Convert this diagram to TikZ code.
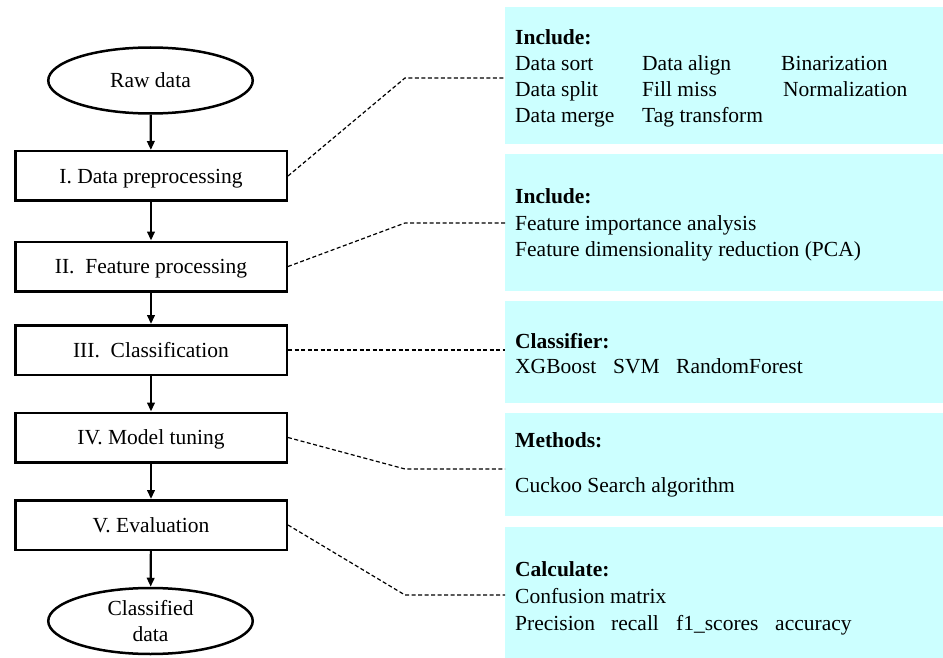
\documentclass[tikz,border=0pt]{standalone}
\usepackage{fontspec}
\setmainfont{Liberation Serif}
\usetikzlibrary{shapes.geometric,arrows.meta}
\definecolor{cyanbg}{RGB}{204,255,255}
\begin{document}
\begin{tikzpicture}[x=1pt,y=-1pt,
  txtfont/.style={font=\fontsize{21.5}{26}\selectfont},
  box/.style={draw, line width=2.5pt, minimum width=271.5pt, minimum height=49.5pt, inner sep=0pt, text height=15pt, text depth=0.5pt, txtfont},
  term/.style={draw, ellipse, line width=2.5pt, minimum width=204.5pt, minimum height=66pt, inner sep=0pt, align=center, txtfont},
  panel/.style={fill=cyanbg, draw=none, anchor=north west, minimum width=438pt, inner sep=0pt},
  ptxt/.style={anchor=base west, inner sep=0pt, txtfont},
  ptitle/.style={ptxt, font=\fontsize{21.5}{26}\selectfont\bfseries},
  conn/.style={line width=1.2pt, dash pattern=on 4pt off 2.5pt},
  flow/.style={-{Triangle[length=9pt,width=7.5pt]}, line width=2.2pt}]
\useasboundingbox (0,0) rectangle (943,658);

% panels
\node[panel, minimum height=137pt] (p1) at (505,7) {};
\node[panel, minimum height=137pt] (p2) at (505,154) {};
\node[panel, minimum height=102pt] (p3) at (505,301) {};
\node[panel, minimum height=103pt] (p4) at (505,413) {};
\node[panel, minimum height=131pt] (p5) at (505,527) {};

% flow nodes
\node[term, text height=15pt, text depth=0.5pt] (raw) at (150.5,80.5) {Raw data};
\node[box] (b1) at (151,176) {I. Data preprocessing};
\node[box] (b2) at (151,266.5) {II.\ \ Feature processing};
\node[box] (b3) at (151,350) {III.\ \ Classification};
\node[box] (b4) at (151,437.5) {IV. Model tuning};
\node[box] (b5) at (151,525) {V. Evaluation};
\node[term] (cls) at (150.5,621) {Classified\\data};

\draw[flow] (raw) -- (b1);
\draw[flow] (b1) -- (b2);
\draw[flow] (b2) -- (b3);
\draw[flow] (b3) -- (b4);
\draw[flow] (b4) -- (b5);
\draw[flow] (b5) -- (cls);

% panel texts
\node[ptitle] (t1) at (515,45) {Include:};
\node[ptxt] (t1a) at (515,71) {Data sort};
\node[ptxt] (t1b) at (642,71) {Data align};
\node[ptxt] (t1c) at (781,71) {Binarization};
\node[ptxt] (t1d) at (515,97) {Data split};
\node[ptxt] (t1e) at (642,97) {Fill miss};
\node[ptxt] (t1f) at (783,97) {Normalization};
\node[ptxt] (t1g) at (515,123) {Data merge};
\node[ptxt] (t1h) at (642,123) {Tag transform};

\node[ptitle] (t2) at (515,204) {Include:};
\node[ptxt] (t2a) at (515,230) {Feature importance analysis};
\node[ptxt] (t2b) at (515,256) {Feature dimensionality reduction (PCA)};

\node[ptitle] (t3) at (515,348) {Classifier:};
\node[ptxt] (t3a) at (515,373) {XGBoost};
\node[ptxt] (t3b) at (613,373) {SVM};
\node[ptxt] (t3c) at (676,373) {RandomForest};

\node[ptitle] (t4) at (515,447) {Methods:};
\node[ptxt] (t4a) at (515,492) {Cuckoo Search algorithm};

\node[ptitle] (t5) at (515,576) {Calculate:};
\node[ptxt] (t5a) at (515,603) {Confusion matrix};
\node[ptxt] (t5b) at (515,630) {Precision};
\node[ptxt] (t5c) at (611,630) {recall};
\node[ptxt] (t5d) at (676,630) {f1\_scores};
\node[ptxt] (t5e) at (775,630) {accuracy};

% dashed connectors
\coordinate (k1) at (405,78);
\coordinate (k2) at (405,223);
\coordinate (k4) at (405,469);
\coordinate (k5) at (405,595);
\draw[conn] (b1.east) -- (k1) -- (k1 -| p1.west);
\draw[conn] (b2.east) -- (k2) -- (k2 -| p2.west);
\draw[conn] (b3.east) -- (b3.east -| p3.west);
\draw[conn] (b4.east) -- (k4) -- (k4 -| p4.west);
\draw[conn] (b5.east) -- (k5) -- (k5 -| p5.west);
\end{tikzpicture}
\end{document}
